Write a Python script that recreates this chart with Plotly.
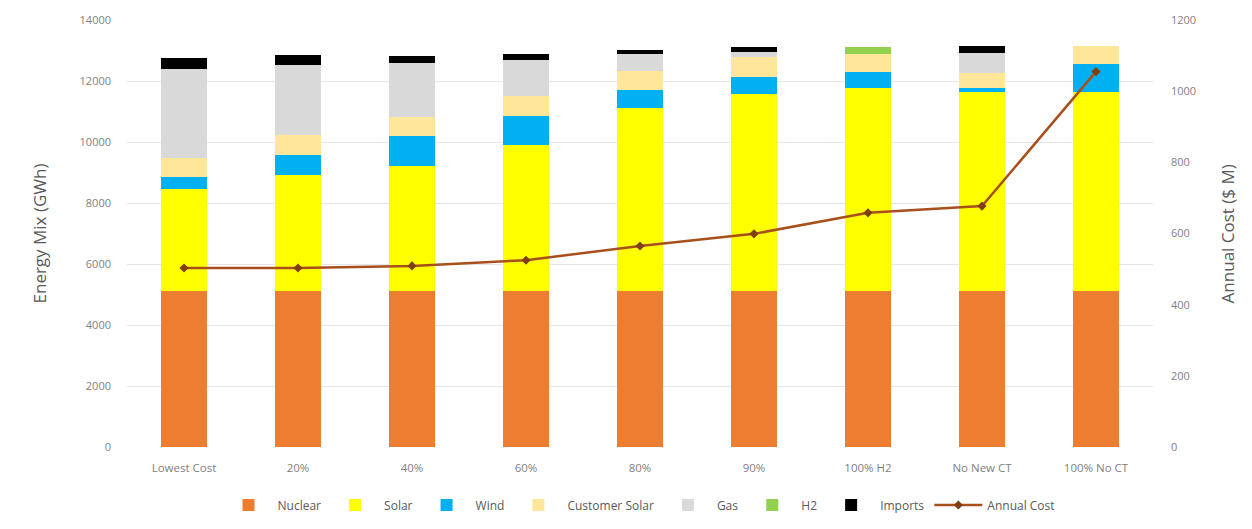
import plotly.graph_objects as go

categories = ["Lowest Cost", "20%", "40%", "60%", "80%", "90%", "100% H2", "No New CT", "100% No CT"]
nuclear = [5100, 5100, 5100, 5100, 5100, 5100, 5100, 5100, 5100]
solar = [3350, 3820, 4110, 4800, 6000, 6470, 6660, 6550, 6550]
wind = [410, 660, 980, 950, 600, 570, 540, 110, 900]
customer_solar = [600, 650, 630, 650, 630, 650, 580, 490, 590]
gas = [2950, 2300, 1780, 1200, 550, 170, 0, 660, 0]
h2 = [0, 0, 0, 0, 0, 0, 240, 0, 0]
imports = [360, 330, 220, 200, 150, 170, 0, 240, 0]
annual_cost = [503, 503, 509, 525, 565, 599, 658, 677, 1055]

series = [
    ("Nuclear", nuclear, "#ED7D31"),
    ("Solar", solar, "#FFFF00"),
    ("Wind", wind, "#00B0F0"),
    ("Customer Solar", customer_solar, "#FFE699"),
    ("Gas", gas, "#D9D9D9"),
    ("H2", h2, "#92D050"),
    ("Imports", imports, "#000000"),
]

FONT = "Open Sans, sans-serif"

fig = go.Figure()
for name, vals, color in series:
    fig.add_trace(go.Bar(x=categories, y=vals, name=name, marker_color=color,
                         marker_line_width=0, width=0.4))

fig.add_trace(go.Scatter(x=categories, y=annual_cost, name="Annual Cost", yaxis="y2",
                         mode="lines+markers",
                         line=dict(color="#A84F1C", width=2.5),
                         marker=dict(symbol="diamond", size=7, color="#7F3F10")))

fig.update_layout(
    width=1244, height=521,
    barmode="stack",
    plot_bgcolor="white", paper_bgcolor="white",
    margin=dict(l=119, r=99, t=12, b=82),
    font=dict(family=FONT, color="#7F7F7F", size=11),
    xaxis=dict(showgrid=False, showline=False, ticks="", automargin=False,
               ticklabelstandoff=12,
               tickfont=dict(size=11.5, color="#7F7F7F")),
    yaxis=dict(range=[0, 14000], dtick=2000, tickformat="d", showgrid=True, gridcolor="#E6E6E6",
               zeroline=False, ticks="", automargin=False, ticklabelstandoff=15,
               tickfont=dict(size=11, color="#7F7F7F")),
    yaxis2=dict(range=[0, 1200], dtick=200, tickformat="d", overlaying="y", side="right", showgrid=False,
                zeroline=False, ticks="", automargin=False, ticklabelstandoff=17,
                tickfont=dict(size=11, color="#7F7F7F")),
    legend=dict(orientation="h", x=0.5, xanchor="center", yref="container", y=0.046,
                yanchor="middle",
                font=dict(size=12, color="#595959"), traceorder="normal",
                itemwidth=48),
    annotations=[
        dict(text="Energy Mix (GWh)", xref="paper", yref="paper", x=-0.0848, y=0.5,
             xanchor="center", yanchor="middle", textangle=-90, showarrow=False,
             font=dict(size=17, color="#595959")),
        dict(text="Annual Cost ($ M)", xref="paper", yref="paper", x=1.073, y=0.5,
             xanchor="center", yanchor="middle", textangle=-90, showarrow=False,
             font=dict(size=17, color="#595959")),
    ],
)

fig.write_html("out.html")
